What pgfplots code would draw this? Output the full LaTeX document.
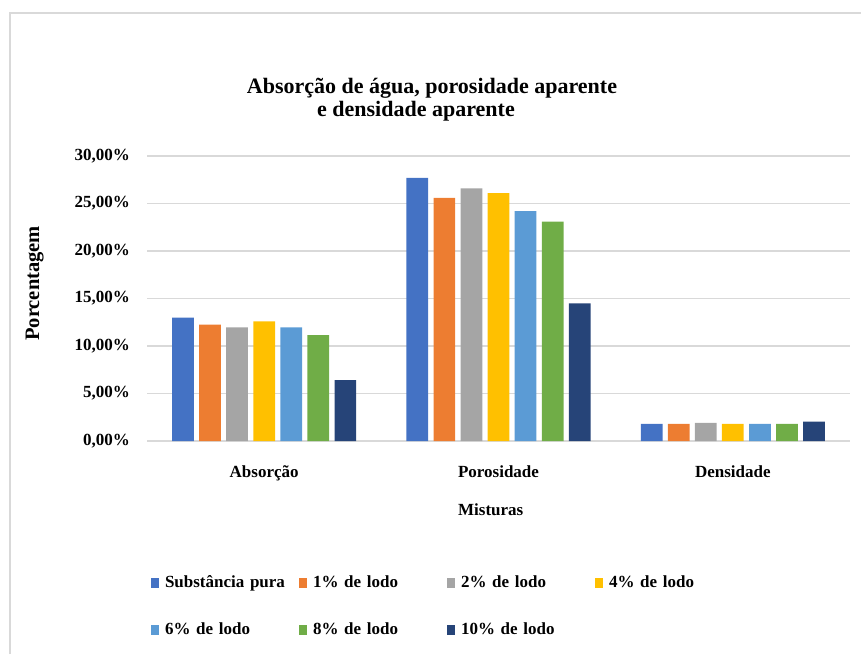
\documentclass[border=0pt]{standalone}
\usepackage{fontspec}
\setmainfont{Liberation Serif}
\usepackage{pgfplots}
\pgfplotsset{compat=1.18}
\definecolor{c1}{HTML}{4472C4}
\definecolor{c2}{HTML}{ED7D31}
\definecolor{c3}{HTML}{A5A5A5}
\definecolor{c4}{HTML}{FFC000}
\definecolor{c5}{HTML}{5B9BD5}
\definecolor{c6}{HTML}{70AD47}
\definecolor{c7}{HTML}{264478}
\definecolor{gridc}{HTML}{D9D9D9}
\begin{document}
\begin{tikzpicture}[x=0.75pt,y=0.75pt]
\path[use as bounding box] (0,0) rectangle (861,654);
\draw[gridc, line width=1.5pt] (10,0) -- (10,641) -- (861,641);
\begin{axis}[
  at={(110.25pt,159.75pt)}, anchor=south west,
  scale only axis, width=527.25pt, height=213.75pt,
  ybar=4pt, bar width=16.3pt,
  xmin=-0.5, xmax=2.5, ymin=0, ymax=30,
  xtick={0,1,2}, xticklabels={Absorção,Porosidade,Densidade},
  ytick={0,5,10,15,20,25,30},
  yticklabels={{0,00\%},{5,00\%},{10,00\%},{15,00\%},{20,00\%},{25,00\%},{30,00\%}},
  ymajorgrids, grid style={gridc, line width=1.2pt},
  axis line style={draw=none}, major tick length=0pt,
  tick label style={font=\bfseries\fontsize{12.75}{15}\selectfont},
  yticklabel style={xshift=-9.25pt},
  xticklabel style={yshift=-15pt},
  xlabel={Misturas},
  xlabel style={at={(axis description cs:0.489,-0.26)}, anchor=base, font=\bfseries\fontsize{12.75}{15}\selectfont},
  ylabel={Porcentagem},
  ylabel style={at={(axis description cs:-0.1536,0.553)}, anchor=base, font=\bfseries\fontsize{15.4}{18}\selectfont},
  legend columns=4,
  legend image code/.code={\fill[#1] (0pt,-4.1pt) rectangle (6pt,4.1pt);},
  legend style={at={(axis description cs:0.0057,-0.469)}, anchor=north west,
    draw=none, fill=none, inner sep=0pt, outer sep=0pt, row sep=22.75pt,
    /tikz/every odd column/.style={column sep=0pt},
    /tikz/every even column/.style={column sep=0pt},
    nodes={inner xsep=4.5pt, inner ysep=0pt, text height=9.5pt, text depth=3pt, text width=96pt, align=left,
      font=\bfseries\fontsize{12.75}{15}\selectfont}},
  legend cell align=left,
  clip=false,
]
\addplot[fill=c1, draw=none] coordinates {(0,13.0) (1,27.7) (2,1.8)};
\addplot[fill=c2, draw=none] coordinates {(0,12.25) (1,25.6) (2,1.8)};
\addplot[fill=c3, draw=none] coordinates {(0,11.95) (1,26.6) (2,1.9)};
\addplot[fill=c4, draw=none] coordinates {(0,12.6) (1,26.1) (2,1.8)};
\addplot[fill=c5, draw=none] coordinates {(0,11.95) (1,24.2) (2,1.8)};
\addplot[fill=c6, draw=none] coordinates {(0,11.15) (1,23.1) (2,1.8)};
\addplot[fill=c7, draw=none] coordinates {(0,6.4) (1,14.5) (2,2.05)};
\legend{Substância pura,1\% de lodo,2\% de lodo,4\% de lodo,6\% de lodo,8\% de lodo,10\% de lodo}
\node[anchor=base, font=\bfseries\fontsize{16.5}{19}\selectfont] at (axis description cs:0.4054,1.221) {Absorção de água, porosidade aparente};
\node[anchor=base, font=\bfseries\fontsize{16.5}{19}\selectfont] at (axis description cs:0.3826,1.140) {e densidade aparente};
\end{axis}
\end{tikzpicture}
\end{document}
